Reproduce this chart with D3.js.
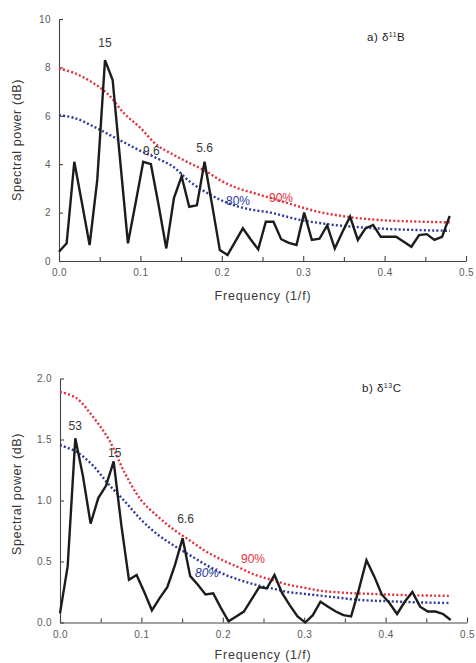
<!DOCTYPE html>
<html>
<head>
<meta charset="utf-8">
<script src="https://cdn.jsdelivr.net/npm/d3@7"></script>
<style>
  body { margin: 0; background: #fff; }
  svg { display: block; }
  text { font-family: "Liberation Sans", Arial, sans-serif; }
</style>
</head>
<body>
<svg id="chart" width="476" height="663"></svg>
<script>
// Spectral frequencies (1/f) of the periodogram estimates
const freq = [0, 0.0094, 0.0188, 0.0282, 0.0376, 0.047, 0.0565, 0.0659, 0.0753, 0.0847,
  0.0941, 0.1035, 0.1129, 0.1224, 0.1318, 0.1412, 0.1506, 0.16, 0.1694, 0.1788,
  0.1882, 0.1976, 0.2071, 0.2165, 0.2259, 0.2353, 0.2447, 0.2541, 0.2635, 0.2729,
  0.2824, 0.2918, 0.3012, 0.3106, 0.32, 0.3294, 0.3388, 0.3482, 0.3576, 0.3671,
  0.3765, 0.3859, 0.3953, 0.4047, 0.4141, 0.4235, 0.4329, 0.4424, 0.4518, 0.4612,
  0.4706, 0.48];

// δ11B spectral power (dB)
const boronPower = [0.38, 0.73, 4.1, 2.4, 0.66, 3.35, 8.3, 7.48, 4.1, 0.73,
  2.4, 4.1, 4.0, 2.3, 0.52, 2.6, 3.5, 2.24, 2.3, 4.1,
  2.3, 0.45, 0.25, 0.8, 1.35, 0.9, 0.48, 1.62, 1.62, 0.9,
  0.75, 0.66, 2.0, 0.87, 0.92, 1.47, 0.52, 1.2, 1.83, 0.87,
  1.35, 1.49, 1.0, 1.0, 1.0, 0.8, 0.59, 1.07, 1.11, 0.87,
  1.0, 1.86];

// δ13C spectral power (dB)
const carbonPower = [0.075, 0.46, 1.51, 1.2, 0.81, 1.02, 1.12, 1.32, 0.8, 0.35,
  0.39, 0.25, 0.1, 0.2, 0.29, 0.47, 0.69, 0.38, 0.31, 0.23,
  0.24, 0.12, 0.01, 0.05, 0.09, 0.19, 0.29, 0.28, 0.39, 0.24,
  0.14, 0.05, 0.0, 0.06, 0.17, 0.13, 0.09, 0.06, 0.05, 0.27,
  0.51, 0.38, 0.23, 0.16, 0.07, 0.17, 0.25, 0.13, 0.09, 0.09,
  0.07, 0.02];

// Red-noise confidence levels, sampled every 0.02
const confFreq = [0, 0.02, 0.04, 0.06, 0.08, 0.10, 0.12, 0.14, 0.16, 0.18, 0.20, 0.22,
  0.24, 0.26, 0.28, 0.30, 0.32, 0.34, 0.36, 0.38, 0.40, 0.42, 0.44, 0.46, 0.48];
const boron90 = [7.96, 7.75, 7.4, 6.9, 6.1, 5.5, 4.8, 4.4, 4.05, 3.72, 3.3, 3.0,
  2.8, 2.6, 2.4, 2.2, 2.02, 1.9, 1.8, 1.73, 1.68, 1.65, 1.63, 1.61, 1.6];
const boron80 = [6.03, 5.9, 5.6, 5.25, 4.9, 4.55, 4.25, 3.9, 3.3, 2.85, 2.5, 2.25,
  2.1, 2.0, 1.83, 1.67, 1.57, 1.48, 1.42, 1.37, 1.33, 1.3, 1.28, 1.26, 1.25];
const carbon90 = [1.89, 1.84, 1.69, 1.5, 1.22, 1.0, 0.87, 0.76, 0.67, 0.58, 0.51, 0.45,
  0.39, 0.35, 0.31, 0.285, 0.26, 0.248, 0.24, 0.235, 0.23, 0.225, 0.222, 0.22, 0.218];
const carbon80 = [1.455, 1.4, 1.29, 1.13, 0.99, 0.84, 0.72, 0.63, 0.55, 0.47, 0.4, 0.35,
  0.31, 0.28, 0.25, 0.235, 0.22, 0.205, 0.19, 0.18, 0.175, 0.17, 0.165, 0.162, 0.16];

// Axis ticks
const freqTicks = [0, 0.1, 0.2, 0.3, 0.4, 0.5];
const freqMinorTicks = [0.05, 0.15, 0.25, 0.35, 0.45];
const boronTicks = [0, 2, 4, 6, 8, 10];
const carbonTicks = [0, 0.5, 1.0, 1.5, 2.0];

// Peak annotations (period labels)
const boronPeaks = [{f: 0.0565, v: 8.3, label: "15"}, {f: 0.1035, v: 4.1, label: "9.6", dx: 8}, {f: 0.1788, v: 4.1, label: "5.6"}];
const carbonPeaks = [{f: 0.0188, v: 1.51, label: "53"}, {f: 0.0659, v: 1.32, label: "15", dx: 1}, {f: 0.1506, v: 0.69, label: "6.6", dx: 3}];

const svg = d3.select("#chart");
const RED = "#e2303c", BLUE = "#2c3a9c", INK = "#1c1c1c", GREY = "#5a5a5a";

function panel(opt) {
  const x = d3.scaleLinear().domain([0, 0.5]).range(opt.xRange);
  const y = d3.scaleLinear().domain(opt.yDomain).range(opt.yRange);
  const g = svg.append("g");

  // axes
  const yAxis = d3.axisLeft(y).tickValues(opt.yTicks).tickFormat(opt.yFormat)
    .tickSizeInner(-4).tickSizeOuter(0).tickPadding(8);
  const xAxis = d3.axisBottom(x).tickValues(freqTicks).tickFormat(d3.format(".1f"))
    .tickSizeInner(-5).tickSizeOuter(0).tickPadding(8);
  const xMinor = d3.axisBottom(x).tickValues(freqMinorTicks).tickFormat("")
    .tickSizeInner(-4).tickSizeOuter(0);

  const ya = g.append("g").attr("transform", `translate(${opt.xRange[0]},0)`).call(yAxis);
  const xa = g.append("g").attr("transform", `translate(0,${opt.yRange[0]})`).call(xAxis);
  const xm = g.append("g").attr("transform", `translate(0,${opt.yRange[0]})`).call(xMinor);
  xm.select(".domain").remove();
  [ya, xa, xm].forEach(a => {
    a.selectAll("path, line").attr("stroke", "#444").attr("stroke-width", 1.1);
    a.selectAll("text").attr("fill", GREY).style("font-size", "10px").style("letter-spacing", "0.4px");
  });

  // confidence curves
  const conf = d3.line().x((d, i) => x(confFreq[i])).y(d => y(d)).curve(d3.curveCatmullRom);
  g.append("path").datum(opt.c90).attr("d", conf).attr("fill", "none")
    .attr("stroke", RED).attr("stroke-width", 2.4).attr("stroke-dasharray", "2,2.2");
  g.append("path").datum(opt.c80).attr("d", conf).attr("fill", "none")
    .attr("stroke", BLUE).attr("stroke-width", 2.4).attr("stroke-dasharray", "2,2.2");

  // spectrum
  const line = d3.line().x((d, i) => x(freq[i])).y(d => y(d));
  g.append("path").datum(opt.power).attr("d", line).attr("fill", "none")
    .attr("stroke", INK).attr("stroke-width", 2.4).attr("stroke-linejoin", "miter");

  // peak labels
  g.selectAll(".peak").data(opt.peaks).enter().append("text")
    .attr("x", d => x(d.f) + (d.dx || 0))
    .attr("y", (d, i) => opt.peakY[i])
    .attr("text-anchor", "middle").attr("fill", "#383838").style("font-size", "12px")
    .text(d => d.label);

  // confidence labels
  g.append("text").attr("x", opt.l90[0]).attr("y", opt.l90[1]).attr("text-anchor", "middle")
    .attr("fill", RED).style("font-size", "12px").text("90%");
  g.append("text").attr("x", opt.l80[0]).attr("y", opt.l80[1]).attr("text-anchor", "middle")
    .attr("fill", BLUE).style("font-size", "12px").style("font-style", opt.italic80 ? "italic" : "normal")
    .text("80%");

  // axis titles
  g.append("text").attr("transform", `translate(21,${opt.yTitle}) rotate(-90)`)
    .attr("text-anchor", "middle").attr("fill", "#383838").style("font-size", "12.5px")
    .style("letter-spacing", "0.6px").text("Spectral power (dB)");
  g.append("text").attr("x", 263).attr("y", opt.xTitle).attr("text-anchor", "middle")
    .attr("fill", "#383838").style("font-size", "12.5px").style("letter-spacing", "0.8px")
    .text("Frequency (1/f)");

  // panel title
  const t = g.append("text").attr("x", opt.title[0]).attr("y", opt.title[1])
    .attr("fill", "#222").style("font-size", "11.5px").style("letter-spacing", "0.5px");
  t.append("tspan").text(opt.titleA);
  t.append("tspan").attr("dy", -4).style("font-size", "7px").text(opt.titleSup);
  t.append("tspan").attr("dy", 4).text(opt.titleB);
}

panel({
  xRange: [59, 466], yRange: [261, 19], yDomain: [0, 10], yTicks: boronTicks,
  yFormat: d3.format("d"), power: boronPower, c90: boron90, c80: boron80,
  peaks: boronPeaks, peakY: [47, 155, 152], l90: [281, 202], l80: [238, 205], italic80: false,
  yTitle: 140, xTitle: 300, title: [367, 41], titleA: "a) δ", titleSup: "11", titleB: "B"
});

panel({
  xRange: [60, 467], yRange: [622.5, 378.5], yDomain: [0, 2], yTicks: carbonTicks,
  yFormat: d3.format(".1f"), power: carbonPower, c90: carbon90, c80: carbon80,
  peaks: carbonPeaks, peakY: [430, 457, 523], l90: [253, 563], l80: [207, 577], italic80: true,
  yTitle: 494, xTitle: 659, title: [362, 392], titleA: "b) δ", titleSup: "13", titleB: "C"
});
</script>
</body>
</html>
